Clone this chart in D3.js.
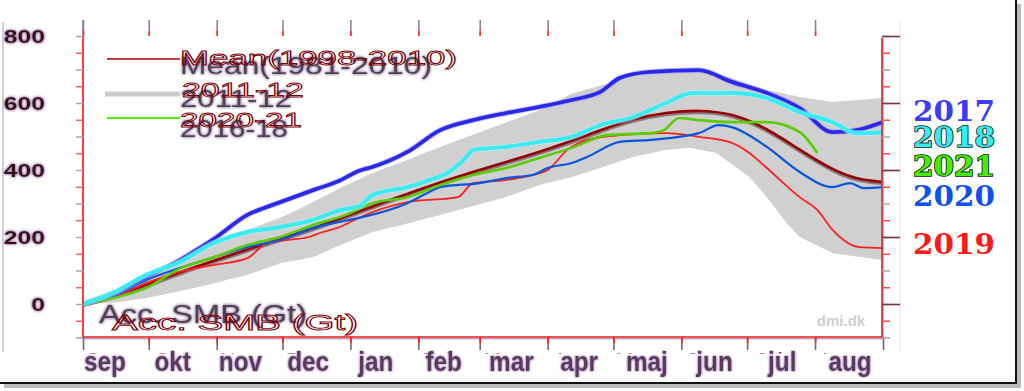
<!DOCTYPE html>
<html><head><meta charset="utf-8">
<script src="https://cdn.jsdelivr.net/npm/d3@7/dist/d3.min.js"></script>
<style>body{margin:0;background:#fff;overflow:hidden}svg{display:block}</style>
</head><body><svg id="c" width="1024" height="391"></svg>
<script>
// ---- data (day of season from 1 Sep, accumulated SMB in Gt) ----
const monthStartDays = [0,30,61,91,122,153,181,212,242,273,303,334];
const monthsEn = ["Sep","Oct","Nov","Dec","Jan","Feb","Mar","Apr","May","Jun","Jul","Aug"];
const monthsDa = ["sep","okt","nov","dec","jan","feb","mar","apr","maj","jun","jul","aug"];
const yMajorTicks = [0,200,400,600,800];
const bandUpper = [[0,0],[14,35],[29,85],[44,132],[59,185],[75,221],[90,258],[98,281],[117,345],[132,391],[148,430],[163,469],[186,525],[208,578],[223,628],[236,652],[251,678],[266,695],[281,700],[296,675],[312,639],[327,618],[342,603],[354,609],[365,615]];
const bandLower = [[0,0],[14,4],[29,18],[44,38],[53,51],[75,87],[90,122],[105,140],[117,175],[132,215],[148,240],[163,266],[193,319],[208,355],[223,379],[236,406],[251,439],[266,460],[277,466],[289,451],[304,379],[312,319],[321,242],[327,200],[342,152],[365,131]];
const meanSeries = [[0,0],[15,25],[30,60],[45,97],[60,130],[75,163],[90,195],[105,226],[120,262],[150,335],[180,400],[210,455],[236,519],[251,553],[266,572],[281,579],[296,570],[312,525],[327,460],[342,400],[353,372],[365,364]];
const s2017 = [[0,0],[14,32],[29,82],[44,130],[49,150],[61,200],[75,266],[84,290],[90,304],[105,340],[117,368],[126,398],[132,409],[148,454],[163,519],[178,549],[193,570],[208,588],[223,609],[236,633],[245,675],[259,693],[281,698],[296,663],[312,630],[327,585],[342,513],[353,519],[365,543]];
const s2018 = [[0,0],[14,34],[29,87],[44,125],[59,180],[75,215],[90,230],[105,251],[117,280],[126,292],[132,325],[148,349],[158,370],[167,394],[175,439],[178,460],[193,469],[208,484],[223,499],[236,534],[251,558],[266,600],[278,630],[296,630],[312,615],[327,573],[342,543],[353,510],[365,513]];
const s2021 = [[0,0],[14,18],[29,48],[44,105],[60,140],[75,176],[90,200],[105,236],[120,266],[132,301],[148,319],[163,355],[178,385],[193,406],[208,436],[223,466],[239,504],[259,510],[265,519],[272,555],[281,549],[296,543],[312,543],[327,513],[335,451]];
const s2020 = [[0,0],[14,25],[29,72],[44,107],[60,140],[75,170],[90,191],[105,227],[117,245],[126,257],[148,301],[158,334],[163,349],[181,361],[193,376],[205,385],[212,406],[223,421],[230,439],[245,484],[259,490],[281,510],[290,534],[296,528],[312,469],[327,394],[342,349],[350,361],[356,346],[365,349]];
const s2019 = [[0,0],[14,21],[29,63],[44,96],[59,116],[75,137],[84,182],[93,191],[103,200],[108,212],[118,232],[125,255],[148,304],[171,319],[178,361],[193,370],[205,385],[212,400],[221,460],[230,490],[245,504],[266,510],[281,499],[296,481],[304,451],[312,406],[327,319],[335,281],[342,221],[354,170],[365,167]];
const rightLabels = ["2017","2018","2021","2020","2019"];
const rightLabelColors = ["#3d3df0","#33eeee","#44ee00","#1050ee","#ff1a1a"];

const svg = d3.select("#c");
const x = d3.scaleLinear().domain([0,365]).range([83,883]);
const y = d3.scaleLinear().domain([-100,800]).range([337.5,36]);
const xDa = d3.scaleLinear().domain([0,11]).range([105,850]);
const FONT = "Liberation Sans, Arial, sans-serif";

// filters
const defs = svg.append("defs");
function halo(id,color,sd){
  const f=defs.append("filter").attr("id",id).attr("x","-20%").attr("y","-40%").attr("width","140%").attr("height","180%");
  f.append("feGaussianBlur").attr("in","SourceAlpha").attr("stdDeviation",sd).attr("result","b");
  f.append("feFlood").attr("flood-color",color).attr("result","c");
  f.append("feComposite").attr("in","c").attr("in2","b").attr("operator","in").attr("result","s");
  const m=f.append("feMerge");m.append("feMergeNode").attr("in","s");m.append("feMergeNode").attr("in","s");m.append("feMergeNode").attr("in","SourceGraphic");
}
halo("halo","#9a80aa",1.4);
halo("haloL","#b090c8",1.0);
defs.append("filter").attr("id","soft").append("feGaussianBlur").attr("stdDeviation",0.6);

// outer frame shadow / border
svg.append("rect").attr("x",4).attr("y",384).attr("width",1016).attr("height",4).attr("fill","#bbb");
svg.append("rect").attr("x",1017).attr("y",4).attr("width",4).attr("height",384).attr("fill","#bbb");
svg.append("line").attr("x1",0).attr("x2",1016).attr("y1",383).attr("y2",383).attr("stroke","#111").attr("stroke-width",2);
svg.append("line").attr("x1",1016).attr("x2",1016).attr("y1",0).attr("y2",384).attr("stroke","#111").attr("stroke-width",2);
svg.append("line").attr("x1",3).attr("x2",3).attr("y1",22).attr("y2",352).attr("stroke","#c8c0c8").attr("stroke-width",1.5);
svg.append("line").attr("x1",900).attr("x2",900).attr("y1",20).attr("y2",352).attr("stroke","#e4e4e4").attr("stroke-width",1);

// band
const upInterp = d3.scaleLinear().domain(bandUpper.map(d=>d[0])).range(bandUpper.map(d=>d[1]));
const lowInterp = d3.scaleLinear().domain(bandLower.map(d=>d[0])).range(bandLower.map(d=>d[1]));
const bandPts = d3.range(0,366,1).map(dd=>[dd, upInterp(dd), lowInterp(dd)]);
svg.append("path").datum(bandPts)
  .attr("d",d3.area().x(d=>x(d[0])).y0(d=>y(d[2])).y1(d=>y(d[1])).curve(d3.curveBasis))
  .attr("fill","#d0d0d0");

const line = d3.line().x(d=>x(d[0])).y(d=>y(d[1]));
// mean with shadow
svg.append("path").datum(meanSeries).attr("d",line.curve(d3.curveBasis)).attr("fill","none").attr("stroke","#8a7a80").attr("stroke-width",3.5).attr("transform","translate(0,1.5)").attr("filter","url(#soft)");
svg.append("path").datum(meanSeries).attr("d",line.curve(d3.curveBasis)).attr("fill","none").attr("stroke","#950000").attr("stroke-width",2.6);
line.curve(d3.curveMonotoneX);
function drawSeries(data,color,w,glow){
  if(glow) svg.append("path").datum(data).attr("d",line).attr("fill","none").attr("stroke",glow).attr("stroke-width",w+2).attr("stroke-opacity",0.5).attr("filter","url(#soft)");
  svg.append("path").datum(data).attr("d",line).attr("fill","none").attr("stroke",color).attr("stroke-width",w).attr("stroke-linejoin","round");
}
drawSeries(s2019,"#ff2020",1.8);
drawSeries(s2020,"#0a55dd",2.2);
drawSeries(s2021,"#5acc00",2.6);
drawSeries(s2017,"#2a2ae6",3.8,"#a090f0");
drawSeries(s2018,"#38ecf0",4.0,"#c0f0ff");

// plot frame
svg.append("line").attr("x1",62).attr("x2",900).attr("y1",36).attr("y2",36).attr("stroke","#5a4450").attr("stroke-width",1.8).attr("filter","url(#haloL)");
svg.append("line").attr("x1",83).attr("x2",83).attr("y1",20).attr("y2",36).attr("stroke","#8a7a90").attr("stroke-width",1.5);
svg.append("line").attr("x1",83).attr("x2",83).attr("y1",36).attr("y2",338).attr("stroke","#ff2a2a").attr("stroke-width",1.8);
svg.append("line").attr("x1",882).attr("x2",882).attr("y1",38).attr("y2",338).attr("stroke","#ff2a2a").attr("stroke-width",1.8);
svg.append("line").attr("x1",883).attr("x2",883).attr("y1",38).attr("y2",338).attr("stroke","#7a5a70").attr("stroke-width",0.8);
svg.append("line").attr("x1",83).attr("x2",883).attr("y1",338).attr("y2",338).attr("stroke","#c0a8c0").attr("stroke-width",3);
svg.append("line").attr("x1",83).attr("x2",883).attr("y1",337).attr("y2",337).attr("stroke","#ff2a2a").attr("stroke-width",1.6);

// top month ticks
svg.append("g").attr("transform","translate(0,36)")
  .call(d3.axisTop(x).tickValues(monthStartDays).tickSize(16).tickFormat("")).call(g=>{
    g.select(".domain").remove();
    g.selectAll(".tick line").attr("stroke","#8a7a90").attr("stroke-width",1.5);
  });
svg.append("g").attr("transform","translate(0,36)")
  .call(d3.axisTop(x).tickValues(monthStartDays).tickSize(5).tickFormat("")).call(g=>{
    g.select(".domain").remove();
    g.selectAll(".tick line").attr("stroke","#ff3030").attr("stroke-width",1.5);
  });
// bottom month ticks
svg.append("g").attr("transform","translate(0,337)")
  .call(d3.axisBottom(x).tickValues(monthStartDays.concat([365])).tickSize(13).tickFormat("")).call(g=>{
    g.select(".domain").remove();
    g.selectAll(".tick line").attr("stroke","#7a6080").attr("stroke-width",1.6);
  });
svg.append("g").attr("transform","translate(0,337)")
  .call(d3.axisBottom(x).tickValues(monthStartDays.slice(1)).tickSize(6).tickFormat("")).call(g=>{
    g.select(".domain").remove();
    g.selectAll(".tick line").attr("stroke","#ff2020").attr("stroke-width",1.6);
  });

// y ticks left & right
const minorTicks = d3.range(-100,801,50);
svg.append("g").attr("transform","translate(83,0)")
  .call(d3.axisLeft(y).tickValues(minorTicks).tickSize(7).tickFormat("")).call(g=>{
    g.select(".domain").remove();
    g.selectAll(".tick line").attr("stroke",(d,i)=>i%2?"#ff6060":"#b0a0b0").attr("stroke-width",1.5);
  });
svg.append("g").attr("transform","translate(83,0)")
  .call(d3.axisLeft(y).tickValues(yMajorTicks).tickSize(20).tickFormat("")).call(g=>{
    g.select(".domain").remove();
    g.selectAll(".tick line").attr("stroke","#6a3448").attr("stroke-width",1.6).attr("filter","url(#haloL)");
  });
svg.append("g").selectAll("text").data(yMajorTicks).join("text")
  .attr("transform",d=>`translate(45,${y(d)+6.5}) scale(1.3,1)`).attr("text-anchor","end")
  .attr("font-family",FONT).attr("font-weight","bold").attr("font-size",19)
  .attr("fill","#3a0a18").attr("filter","url(#halo)").text(d=>d);
svg.append("g").attr("transform","translate(882,0)")
  .call(d3.axisRight(y).tickValues(minorTicks).tickSize(8).tickFormat("")).call(g=>{
    g.select(".domain").remove();
    g.selectAll(".tick line").attr("stroke",(d,i)=>i%2?"#ff5050":"#b0a0b0").attr("stroke-width",1.5);
  });
svg.append("g").attr("transform","translate(882,0)")
  .call(d3.axisRight(y).tickValues(yMajorTicks).tickSize(18).tickFormat("")).call(g=>{
    g.select(".domain").remove();
    g.selectAll(".tick line").attr("stroke","#7a3448").attr("stroke-width",1.6);
  });

// English month labels (mostly hidden) then Danish
svg.append("g").selectAll("text").data(monthsEn).join("text")
  .attr("x",(d,i)=>x(monthStartDays[i])+22).attr("y",367).attr("text-anchor","middle")
  .attr("font-family",FONT).attr("font-size",21).attr("fill","#8a0010").text(d=>d);
svg.append("rect").attr("x",5).attr("y",353.5).attr("width",895).attr("height",28).attr("fill","#fff");
svg.append("g").selectAll("text").data(monthsDa).join("text")
  .attr("transform",(d,i)=>`translate(${xDa(i)},371) scale(0.9,1)`).attr("text-anchor","middle")
  .attr("font-family",FONT).attr("font-weight","bold").attr("font-size",27).attr("fill","#5a3a5a")
  .attr("filter","url(#haloL)").text(d=>d);

// legend
const lg = svg.append("g");
lg.append("line").attr("x1",107).attr("x2",180).attr("y1",63).attr("y2",63).attr("stroke","#6a5a6a").attr("stroke-width",3).attr("filter","url(#haloL)");
lg.append("line").attr("x1",107).attr("x2",180).attr("y1",59).attr("y2",59).attr("stroke","#b00000").attr("stroke-width",1.3);
lg.append("line").attr("x1",105).attr("x2",180).attr("y1",94).attr("y2",94).attr("stroke","#cccccc").attr("stroke-width",5);
lg.append("line").attr("x1",107).attr("x2",180).attr("y1",118).attr("y2",118).attr("stroke","#55ee00").attr("stroke-width",1.8);
lg.append("line").attr("x1",106).attr("x2",180).attr("y1",123).attr("y2",123).attr("stroke","#33eeee").attr("stroke-width",4).attr("filter","url(#haloL)");
const grayTxt = [["Mean(1981-2010)",180,74,252],["2011-12",180,107,112],["2016-18",180,137,108]];
const redTxt = [["Mean(1998-2010)",180,65,277],["2011-12",182,97,122],["2020-21",180,127,122]];
lg.selectAll("text.g").data(grayTxt).join("text").attr("class","g")
  .attr("x",d=>d[1]).attr("y",d=>d[2]).attr("font-family",FONT)
  .attr("font-size",23).attr("fill","#4e424e").attr("filter","url(#halo)")
  .attr("textLength",d=>d[3]).attr("lengthAdjust","spacingAndGlyphs").text(d=>d[0]);
lg.selectAll("text.r").data(redTxt).join("text").attr("class","r")
  .attr("x",d=>d[1]).attr("y",d=>d[2]).attr("font-family",FONT)
  .attr("font-size",21).attr("fill","none").attr("stroke","#7a0008").attr("stroke-width",0.9)
  .attr("textLength",d=>d[3]).attr("lengthAdjust","spacingAndGlyphs").text(d=>d[0]);

// axis title
svg.append("text").attr("x",99).attr("y",323).attr("font-family",FONT)
  .attr("font-size",26).attr("fill","#4e424e").attr("filter","url(#halo)")
  .attr("textLength",208).attr("lengthAdjust","spacingAndGlyphs").text("Acc. SMB (Gt)");
svg.append("text").attr("x",112).attr("y",330).attr("font-family",FONT)
  .attr("font-size",22).attr("fill","none").attr("stroke","#7a0008").attr("stroke-width",0.9)
  .attr("textLength",246).attr("lengthAdjust","spacingAndGlyphs").text("Acc. SMB (Gt)");

// watermark
svg.append("text").attr("x",841).attr("y",326).attr("text-anchor","middle").attr("font-family",FONT)
  .attr("font-weight","bold").attr("font-size",15).attr("fill","#cfcfcf").text("dmi.dk");

// right year labels
const rlY = [121,147,176,206,254];
svg.append("g").selectAll("text").data(rightLabels).join("text")
  .attr("x",954).attr("y",(d,i)=>rlY[i]).attr("text-anchor","middle")
  .attr("font-family","DejaVu Serif, serif").attr("font-weight","bold").attr("font-size",27)
  .attr("fill",(d,i)=>rightLabelColors[i])
  .attr("stroke",(d,i)=>(i===1||i===2)?"#111":"none").attr("stroke-width",1.6).attr("paint-order","stroke")
  .attr("textLength",82).attr("lengthAdjust","spacingAndGlyphs").text(d=>d);
</script></body></html>
